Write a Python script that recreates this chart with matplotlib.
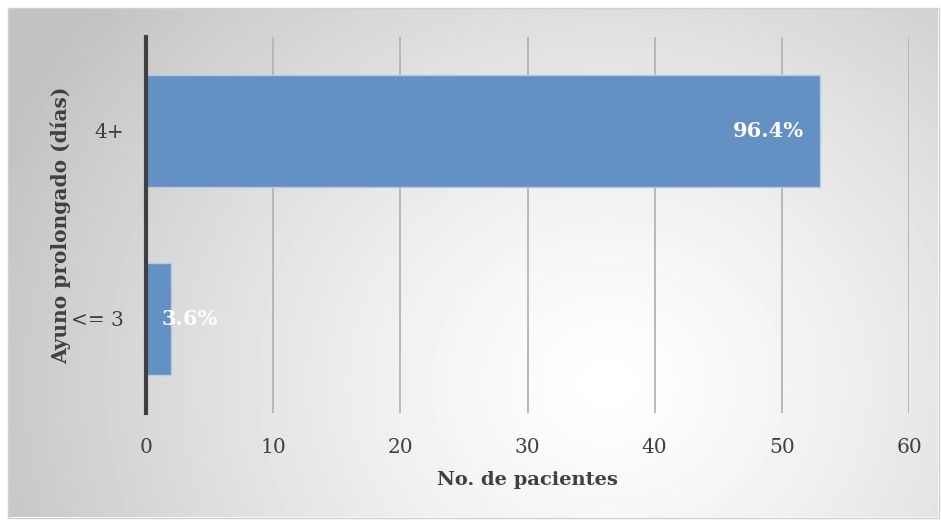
import numpy as np
import matplotlib
matplotlib.use("Agg")
import matplotlib.pyplot as plt
from matplotlib.patches import Rectangle

categories = ["<= 3", "4+"]
patients = [2, 53]
labels = ["3.6%", "96.4%"]
xticks = [0, 10, 20, 30, 40, 50, 60]

plt.rcParams["font.family"] = ["DejaVu Serif"]
W, H = 941, 522
fig = plt.figure(figsize=(W / 100, H / 100), dpi=100, facecolor="white")

# radial gradient background inside a thin border
bg = fig.add_axes([8 / W, 5 / H, 930 / W, 509 / H], zorder=0)
yy, xx = np.mgrid[0:509, 0:930]
d = np.hypot(xx - 600, (yy - 375) * 1.1) / 640
shade = np.clip(1 - 0.23 * d ** 1.3, 0.76, 1)
bg.imshow(shade, cmap="gray", vmin=0, vmax=1, aspect="auto", interpolation="bilinear")
bg.set_axis_off()
fig.patches.append(Rectangle((7.5 / W, 4.5 / H), 931 / W, 510 / H, transform=fig.transFigure,
                             fill=False, ec="#d0d0d0", lw=1))

ax = fig.add_axes([146 / W, 1 - 413 / H, (909 - 146) / W, (413 - 37) / H], zorder=1)
ax.patch.set_alpha(0)
y = np.arange(len(categories))
bars = ax.barh(y, patients, height=0.6, color="#6490c4", edgecolor="#b3cbe6", lw=1, zorder=3)
ax.set_ylim(-0.5, 1.5)
ax.set_xlim(0, 60)
ax.set_xticks(xticks)
ax.set_yticks(y)
ax.set_yticklabels(categories)
ax.grid(axis="x", color="#b4b4b4", lw=1.3, zorder=1)
for s in ["top", "right", "bottom"]:
    ax.spines[s].set_visible(False)
ax.spines["left"].set_color("#404040")
ax.spines["left"].set_linewidth(3)
ax.spines["left"].set_zorder(4)
ax.tick_params(length=0, labelsize=14.5, labelcolor="#404040")
ax.tick_params(axis="x", pad=18)
ax.tick_params(axis="y", pad=16)
ax.set_xlabel("No. de pacientes", fontsize=14, fontweight="bold", color="#404040", labelpad=10)
ax.set_ylabel("Ayuno prolongado (días)", fontsize=14.5, fontweight="bold", color="#404040")
ax.yaxis.set_label_coords(-0.098, 0.5)

# data labels
ax.annotate(labels[1], (patients[1], y[1]), xytext=(-16, 0), textcoords="offset pixels",
            ha="right", va="center", color="white", fontsize=15, fontweight="bold", zorder=5)
ax.annotate(labels[0], (0, y[0]), xytext=(16, 0), textcoords="offset pixels",
            ha="left", va="center", color="white", fontsize=15, fontweight="bold", zorder=5)

fig.savefig("out.png", dpi=100)
